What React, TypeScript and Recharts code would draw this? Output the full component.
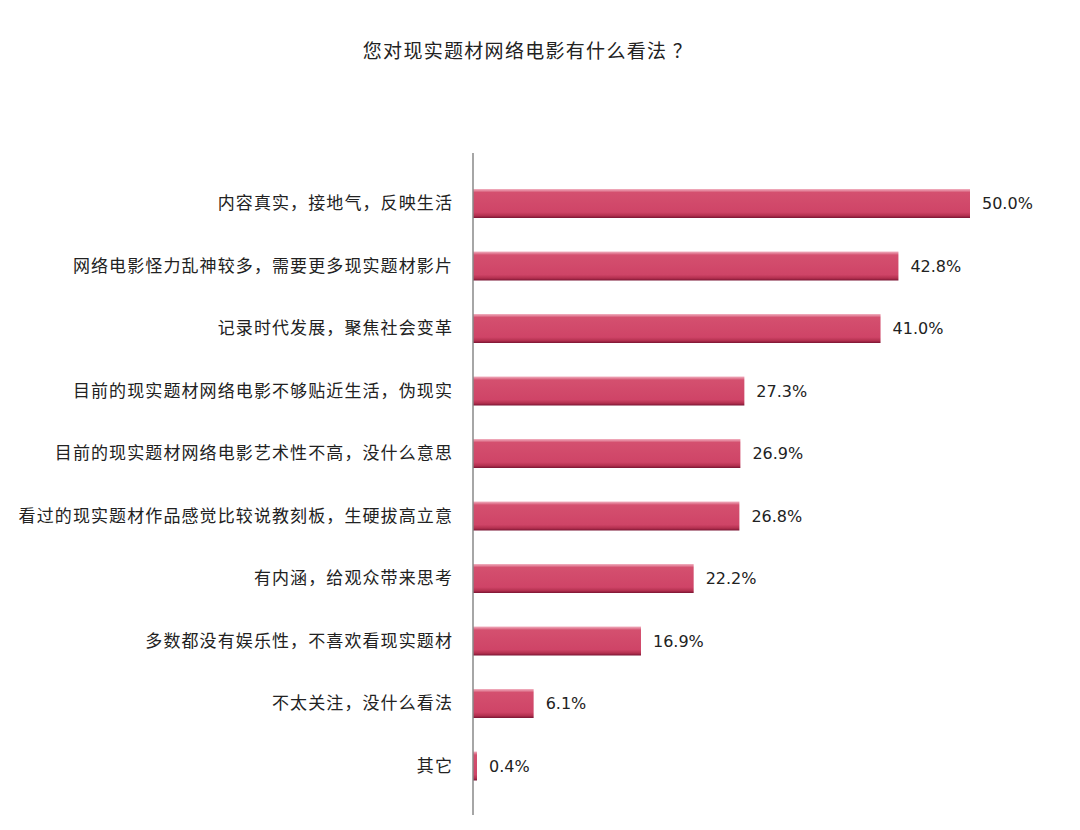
import { BarChart, Bar, XAxis, YAxis, LabelList } from "recharts"

const opinions = [
  "内容真实，接地气，反映生活",
  "网络电影怪力乱神较多，需要更多现实题材影片",
  "记录时代发展，聚焦社会变革",
  "目前的现实题材网络电影不够贴近生活，伪现实",
  "目前的现实题材网络电影艺术性不高，没什么意思",
  "看过的现实题材作品感觉比较说教刻板，生硬拔高立意",
  "有内涵，给观众带来思考",
  "多数都没有娱乐性，不喜欢看现实题材",
  "不太关注，没什么看法",
  "其它",
]
const shares = [50.0, 42.8, 41.0, 27.3, 26.9, 26.8, 22.2, 16.9, 6.1, 0.4]

const data = opinions.map((name, i) => ({ name, value: shares[i] }))

const cjk = '"Noto Sans CJK SC", "Noto Sans", sans-serif'

export default function App() {
  return (
    <div style={{ position: "relative", width: 1064, height: 822, background: "#fff" }}>
      <div
        style={{
          position: "absolute",
          top: 28,
          left: 0,
          width: 1040,
          textAlign: "center",
          fontFamily: cjk,
          fontSize: 19,
          letterSpacing: 1.3,
          color: "#222",
        }}
      >
        您对现实题材网络电影有什么看法 ？
      </div>
      <BarChart
        width={1064}
        height={822}
        data={data}
        layout="vertical"
        margin={{ top: 145, right: 102, bottom: 15, left: 0 }}
      >
        <defs>
          <linearGradient id="barFill" x1="0" y1="0" x2="0" y2="1">
            <stop offset="0%" stopColor="#f2b3c2" />
            <stop offset="12%" stopColor="#d4506f" />
            <stop offset="80%" stopColor="#cf4467" />
            <stop offset="92%" stopColor="#b3304f" />
            <stop offset="100%" stopColor="#7a1433" />
          </linearGradient>
        </defs>
        <XAxis type="number" domain={[0, 50]} hide />
        <YAxis
          type="category"
          dataKey="name"
          width={465}
          padding={{ top: 19, bottom: 18 }}
          tickLine={false}
          tickSize={0}
          tickMargin={20}
          axisLine={{ stroke: "#888", strokeWidth: 1.5 }}
          tick={{ fill: "#222", fontSize: 17, letterSpacing: 1.1, fontFamily: cjk }}
          interval={0}
        />
        <Bar dataKey="value" fill="url(#barFill)" barSize={29} isAnimationActive={false}>
          <LabelList
            dataKey="value"
            position="right"
            offset={12}
            formatter={(v: number) => `${v.toFixed(1)}%`}
            style={{ fill: "#222", fontSize: 16, fontFamily: '"DejaVu Sans", sans-serif' }}
          />
        </Bar>
      </BarChart>
    </div>
  )
}
